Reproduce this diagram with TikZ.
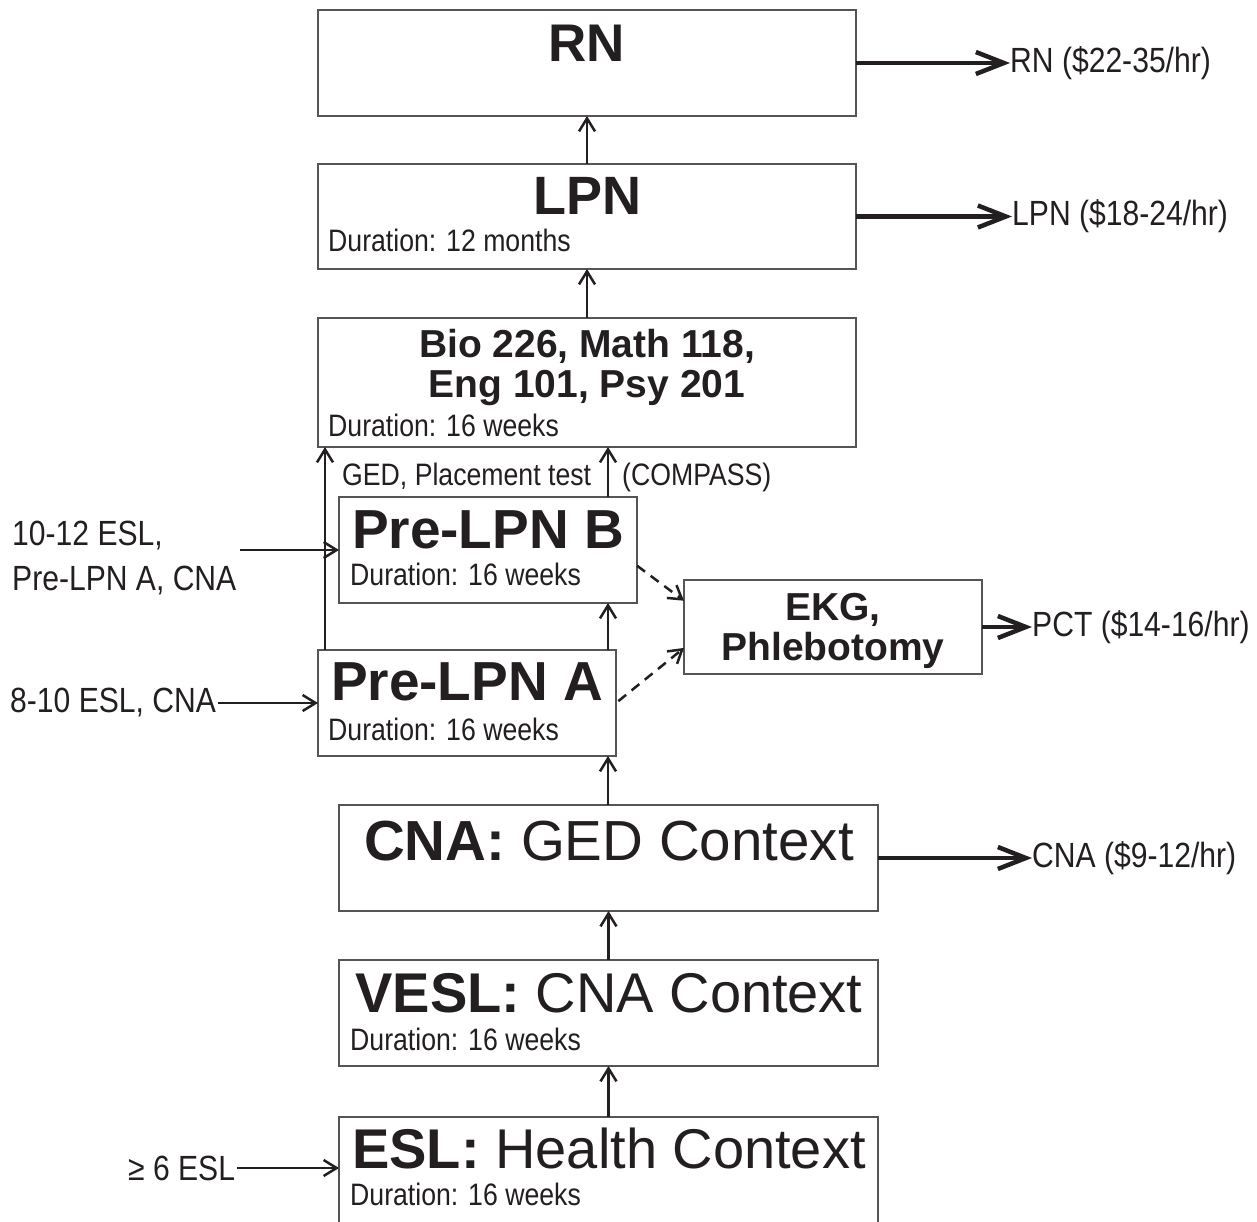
\documentclass[tikz,border=0pt]{standalone}
\usepackage{fontspec}
\setmainfont{Liberation Sans}
\newfontfamily\condfont{Liberation Sans}[FakeStretch=0.86]
\usetikzlibrary{arrows.meta}
\definecolor{ink}{HTML}{231F20}
\definecolor{edge}{HTML}{555555}
\begin{document}
\begin{tikzpicture}[x=1pt,y=-1pt,
  box/.style={draw=edge, line width=1.5pt, inner sep=0pt, outer sep=0pt},
  ttl/.style={font=\fontsize{55}{60}\selectfont, text=ink, anchor=base, inner sep=0pt},
  sub/.style={font=\fontsize{39}{44}\selectfont\bfseries, text=ink, anchor=base, inner sep=0pt},
  dur/.style={font=\condfont\fontsize{31}{36}\selectfont, text=ink, anchor=base west, inner sep=0pt},
  lbl/.style={font=\condfont\fontsize{35}{40}\selectfont, text=ink, inner sep=0pt},
  up/.style={draw=ink, line width=2.5pt, -{Straight Barb[length=13pt,width=16pt,line width=2.5pt]}},
  outarr/.style={draw=ink, line width=4.5pt, -{Straight Barb[length=28pt,width=22pt,line width=4.5pt]}},
  dsh/.style={up, dash pattern=on 10pt off 7pt},
]
\useasboundingbox (0,0) rectangle (1257,1222);
\fill[white] (0,0) rectangle (1257,1222);

% boxes
\node[box, minimum width=538pt, minimum height=106pt] (rn) at (587,63) {};
\node[box, minimum width=538pt, minimum height=105pt] (lpn) at (587,216.5) {};
\node[box, minimum width=538pt, minimum height=129pt] (bio) at (587,382.5) {};
\node[box, minimum width=298pt, minimum height=106pt] (plb) at (488,550) {};
\node[box, minimum width=298pt, minimum height=106pt] (pla) at (467,703) {};
\node[box, minimum width=298pt, minimum height=94pt] (ekg) at (833,627) {};
\node[box, minimum width=539pt, minimum height=106pt] (cna) at (608.5,858) {};
\node[box, minimum width=539pt, minimum height=106pt] (vesl) at (608.5,1013) {};
\node[box, minimum width=539pt, minimum height=146pt] (esl) at (608.5,1190) {};

% box texts
\node[ttl, font=\fontsize{53}{60}\selectfont] (rnt) at (587,62) {\textbf{RN}};
\node[ttl, font=\fontsize{54}{60}\selectfont] (lpnt) at (587,215) {\textbf{LPN}};
\node[dur] (lpnd) at (328,252) {Duration: 12 months};
\node[sub] (bio1) at (587,357) {Bio 226, Math 118,};
\node[sub] (bio2) at (587,397) {Eng 101, Psy 201};
\node[dur] (biod) at (328,436) {Duration: 16 weeks};
\node[ttl] (plbt) at (488,548) {\textbf{Pre-LPN B}};
\node[dur] (plbd) at (350,585) {Duration: 16 weeks};
\node[ttl] (plat) at (467,700) {\textbf{Pre-LPN A}};
\node[dur] (plad) at (328,740) {Duration: 16 weeks};
\node[sub] (ekg1) at (833,620) {EKG,};
\node[sub] (ekg2) at (833,660) {Phlebotomy};
\node[ttl, font=\fontsize{56.5}{60}\selectfont] (cnat) at (609,860) {\textbf{CNA:} GED Context};
\node[ttl, font=\fontsize{56}{60}\selectfont] (veslt) at (609,1012) {\textbf{VESL:} CNA Context};
\node[dur] (vesld) at (350,1050) {Duration: 16 weeks};
\node[ttl, font=\fontsize{56}{60}\selectfont] (eslt) at (609,1168) {\textbf{ESL:} Health Context};
\node[dur] (esld) at (350,1205) {Duration: 16 weeks};

% side labels
\node[dur] (ged) at (342,485) {GED, Placement test};
\node[dur] (comp) at (622,485) {(COMPASS)};
\node[lbl, anchor=base west] (l1a) at (12,545) {10-12 ESL,};
\node[lbl, anchor=base west] (l1b) at (12,590) {Pre-LPN A, CNA};
\node[lbl, anchor=west] (l2) at (10,703) {8-10 ESL, CNA};
\node[lbl, anchor=west] (l3) at (128,1168) {≥ 6 ESL};

\node[lbl, anchor=west] (rnl) at (1010,63) {RN (\$22-35/hr)};
\node[lbl, anchor=west] (lpnl) at (1012,216) {LPN (\$18-24/hr)};
\node[lbl, anchor=west] (pctl) at (1032,627) {PCT (\$14-16/hr)};
\node[lbl, anchor=west] (cnal) at (1032,858) {CNA (\$9-12/hr)};

\coordinate (lx) at (325,0);
\coordinate (cx) at (608,0);

% vertical connectors
\draw[up] (lpn.north) -- (rn.south);
\draw[up] (bio.north) -- (lpn.south);
\draw[up] (lx |- pla.north) -- (lx |- bio.south);
\draw[up] (cx |- plb.north) -- (cx |- bio.south);
\draw[up] (cx |- pla.north) -- (cx |- plb.south);
\draw[up] (cx |- cna.north) -- (cx |- pla.south);
\draw[up] (vesl.north) -- (cna.south);
\draw[up] (esl.north) -- (vesl.south);

% entries
\draw[up] ([xshift=3pt]l1b.east |- plb.west) -- (plb.west);
\draw[up] ([xshift=2pt]l2.east) -- (l2.east -| pla.west);
\draw[up] ([xshift=2pt]l3.east) -- (l3.east -| esl.west);

% dashed
\draw[dsh] (plb.-6) -- (ekg.170);
\draw[dsh, shorten <=3pt] (pla.east) -- (ekg.188);

% outputs
\draw[outarr] (rn.east) -- (rn.east -| rnl.west);
\draw[outarr] (lpn.east) -- (lpn.east -| lpnl.west);
\draw[outarr] (ekg.east) -- (ekg.east -| pctl.west);
\draw[outarr] (cna.east) -- (cna.east -| cnal.west);
\end{tikzpicture}
\end{document}
